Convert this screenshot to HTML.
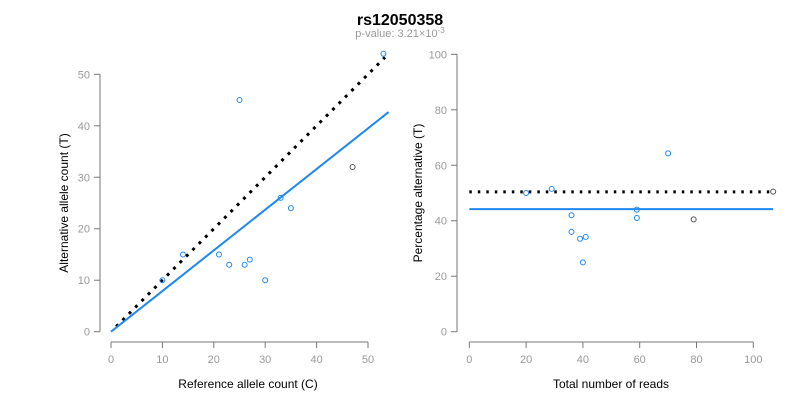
<!DOCTYPE html>
<html><head><meta charset="utf-8"><style>
body{margin:0;background:#fff;}
svg{font-family:"Liberation Sans",sans-serif;display:block}
</style></head><body>
<svg id="c" width="800" height="400">
<text x="400" y="25" text-anchor="middle" font-size="16" font-weight="bold">rs12050358</text>
<text x="400" y="37" text-anchor="middle" font-size="11" fill="#999">p-value: 3.21×10<tspan dy="-4" font-size="8">-3</tspan></text>
<g id="left"></g>
<g id="right"></g>
</svg>
<script>
const leftRef=[10,14,21,23,25,26,27,30,33,35,47,53];
const leftAlt=[10,15,15,13,45,13,14,10,26,24,32,54];
const leftDark=[0,0,0,0,0,0,0,0,0,0,1,0];
const leftFitSlope=0.79;
const leftXTicks=[0,10,20,30,40,50];
const leftYTicks=[0,10,20,30,40,50];
const rightReads=[20,29,36,36,39,40,41,59,59,70,79,107];
const rightPct=[50,51.5,42,36,33.5,25,34.2,44,41,64.3,40.5,50.5];
const rightDark=[0,0,0,0,0,0,0,0,0,0,1,1];
const rightFit=[44.2];
const rightExpected=[50.4];
const rightXTicks=[0,20,40,60,80,100];
const rightYTicks=[0,20,40,60,80,100];
const NS="http://www.w3.org/2000/svg";
function mk(p,t,a){const e=document.createElementNS(NS,t);for(const k in a)e.setAttribute(k,a[k]);p.appendChild(e);return e;}
const lx=v=>111+v*5.14, ly=v=>331.7-v*5.148;
const rx=v=>469.3+v*2.84, ry=v=>331.7-v*2.774;
function axes(g,xs,ys,xT,yT,yAxX,xAxY,xTitle,yTitle,xTitleX,yTitleX){
  const gray="#777";
  let e=mk(g,'line',{x1:yAxX,x2:yAxX,y1:ys(yT[0]),y2:ys(yT[yT.length-1]),stroke:gray});
  
  yT.forEach(t=>{mk(g,'line',{x1:yAxX-6,x2:yAxX,y1:ys(t),y2:ys(t),stroke:gray});
    let tx=mk(g,'text',{x:yAxX-10,y:ys(t)+4,'text-anchor':'end','font-size':11,fill:'#999'});tx.textContent=t;
    });
  e=mk(g,'line',{x1:xs(xT[0]),x2:xs(xT[xT.length-1]),y1:xAxY,y2:xAxY,stroke:gray});
  
  xT.forEach(t=>{mk(g,'line',{x1:xs(t),x2:xs(t),y1:xAxY,y2:xAxY+6,stroke:gray});
    let tx=mk(g,'text',{x:xs(t),y:xAxY+21,'text-anchor':'middle','font-size':11,fill:'#999'});tx.textContent=t;
    });
  let t1=mk(g,'text',{x:xTitleX,y:388,'text-anchor':'middle','font-size':12});t1.textContent=xTitle;
  
  let t2=mk(g,'text',{x:yTitleX,y:(ys(yT[0])+ys(yT[yT.length-1]))/2,'text-anchor':'middle','font-size':12,transform:`rotate(-90 ${yTitleX} ${(ys(yT[0])+ys(yT[yT.length-1]))/2})`});t2.textContent=yTitle;
  
}
const L=document.getElementById('left'),R=document.getElementById('right');
axes(L,lx,ly,leftXTicks,leftYTicks,100,342,'Reference allele count (C)','Alternative allele count (T)',248,68);
axes(R,rx,ry,rightXTicks,rightYTicks,457,342,'Total number of reads','Percentage alternative (T)',611,422);
let e=mk(L,'line',{x1:lx(1),y1:ly(1),x2:lx(53.3),y2:ly(53.3),stroke:'#000','stroke-width':3,'stroke-dasharray':'3 6'});

e=mk(L,'line',{x1:lx(0),y1:ly(0),x2:lx(54),y2:ly(54*leftFitSlope),stroke:'#1e88f0','stroke-width':2});

leftRef.forEach((v,i)=>{const c=mk(L,'circle',{cx:lx(v),cy:ly(leftAlt[i]),r:2.5,fill:'none',stroke:leftDark[i]?'#555':'#1e88f0','stroke-width':1});
  });
e=mk(R,'line',{x1:rx(0),y1:ry(rightExpected[0]),x2:rx(107),y2:ry(rightExpected[0]),stroke:'#000','stroke-width':3,'stroke-dasharray':'2.5 6'});

e=mk(R,'line',{x1:rx(0),y1:ry(rightFit[0]),x2:rx(107),y2:ry(rightFit[0]),stroke:'#1e88f0','stroke-width':2});

rightReads.forEach((v,i)=>{const c=mk(R,'circle',{cx:rx(v),cy:ry(rightPct[i]),r:2.5,fill:'none',stroke:rightDark[i]?'#555':'#1e88f0','stroke-width':1});
  });
</script>
</body></html>
